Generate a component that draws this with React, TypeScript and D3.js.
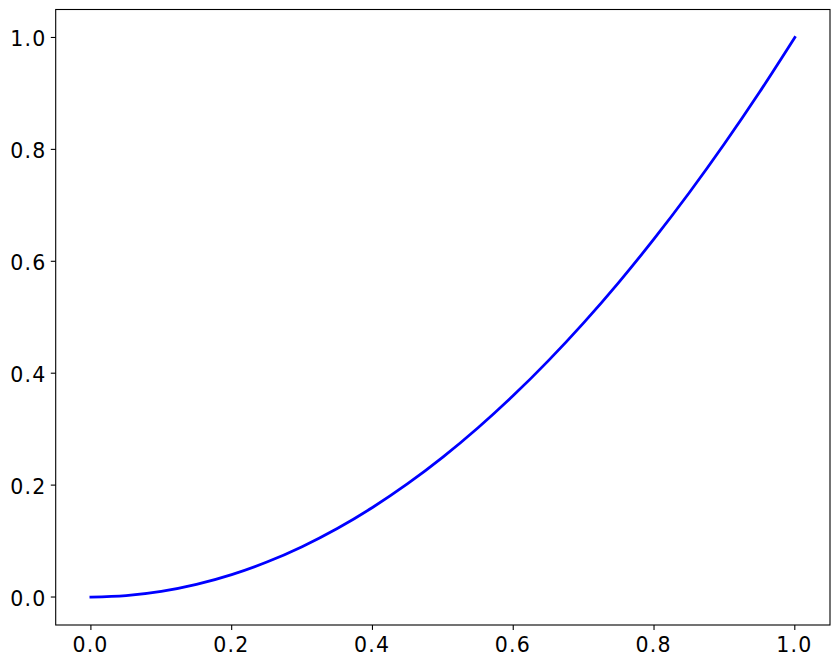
import React from "react";
import * as d3 from "d3";

const xValues = [0, 0.05, 0.1, 0.15, 0.2, 0.25, 0.3, 0.35, 0.4, 0.45, 0.5, 0.55, 0.6, 0.65, 0.7, 0.75, 0.8, 0.85, 0.9, 0.95, 1.0];
const yValues = [0, 0.0025, 0.01, 0.0225, 0.04, 0.0625, 0.09, 0.1225, 0.16, 0.2025, 0.25, 0.3025, 0.36, 0.4225, 0.49, 0.5625, 0.64, 0.7225, 0.81, 0.9025, 1.0];
const xTicks = [0, 0.2, 0.4, 0.6, 0.8, 1.0];
const yTicks = [0, 0.2, 0.4, 0.6, 0.8, 1.0];

const W = 839;
const H = 667;
const left = 55.7;
const right = 830;
const top = 9.5;
const bottom = 625;

export default function App() {
  const x = d3.scaleLinear().domain([-0.05, 1.05]).range([left, right]);
  const y = d3.scaleLinear().domain([-0.05, 1.05]).range([bottom, top]);
  const pts = xValues.map((v, i) => [v, yValues[i]] as [number, number]);
  const line = d3
    .line<[number, number]>()
    .x((d) => x(d[0]))
    .y((d) => y(d[1]))
    .curve(d3.curveMonotoneX);
  const font = "DejaVu Sans";
  const fs = 20.5;
  const ls = 1.2;
  const tickLen = 4.9;
  return (
    <svg
      width={W}
      height={H}
      style={{ position: "absolute", left: 0, top: 0, display: "block", background: "#fff" }}
    >
      <rect x={0} y={0} width={W} height={H} fill="#fff" />
      <path d={line(pts) || ""} fill="none" stroke="#0000ff" strokeWidth={2.78} strokeLinecap="square" />
      <rect x={left} y={top} width={right - left} height={bottom - top} fill="none" stroke="#000" strokeWidth={1.1} />
      {xTicks.map((t) => (
        <g key={"x" + t}>
          <line x1={x(t)} x2={x(t)} y1={bottom} y2={bottom + tickLen} stroke="#000" strokeWidth={1.1} />
          <text
            x={x(t) - 1 + ls / 2}
            y={652}
            textAnchor="middle"
            fontFamily={font}
            fontSize={fs}
            letterSpacing={ls}
            fill="#000"
          >
            {t.toFixed(1)}
          </text>
        </g>
      ))}
      {yTicks.map((t) => (
        <g key={"y" + t}>
          <line x1={left - tickLen} x2={left} y1={y(t)} y2={y(t)} stroke="#000" strokeWidth={1.1} />
          <text
            x={46.5}
            y={y(t) + 8.6}
            textAnchor="end"
            fontFamily={font}
            fontSize={fs}
            letterSpacing={ls}
            fill="#000"
          >
            {t.toFixed(1)}
          </text>
        </g>
      ))}
    </svg>
  );
}
